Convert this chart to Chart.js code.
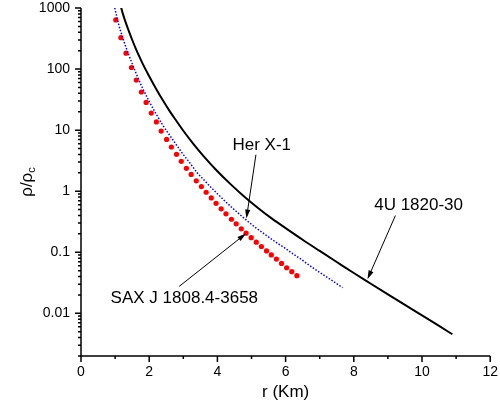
<!DOCTYPE html>
<html>
<head>
<meta charset="utf-8">
<script src="https://cdn.jsdelivr.net/npm/chart.js@4.4.1/dist/chart.umd.min.js"></script>
<style>
  html, body { margin: 0; padding: 0; background: #fff; }
</style>
</head>
<body>
<canvas id="chart" width="500" height="407"></canvas>
<script>
// radius r (Km) and density ratio rho/rho_c
const saxR = [1.02, 1.17, 1.32, 1.48, 1.62, 1.77, 1.91, 2.06, 2.21, 2.35, 2.51, 2.65, 2.80,
    2.94, 3.09, 3.23, 3.38, 3.53, 3.67, 3.82, 3.96, 4.11, 4.25, 4.41, 4.55, 4.70, 4.84,
    4.99, 5.14, 5.29, 5.44, 5.58, 5.73, 5.88, 6.03, 6.18, 6.33];
const saxRho = [637, 327, 182, 106, 65.9, 42.1, 28.4, 19.0, 13.6, 9.66, 7.04, 5.29, 4.01,
    3.08, 2.37, 1.88, 1.48, 1.19, 0.96, 0.776, 0.634, 0.514, 0.426, 0.347, 0.292, 0.242, 0.205,
    0.173, 0.146, 0.124, 0.105, 0.0904, 0.0774, 0.0656, 0.0558, 0.0480, 0.0413];

const herR = [0.99, 1.1, 1.2, 1.3, 1.4, 1.5, 1.6, 1.8, 2.0, 2.2, 2.4, 2.6, 2.8, 3.0, 3.2,
    3.4, 3.6, 3.8, 4.0, 4.2, 4.4, 4.6, 4.8, 5.0, 5.2, 5.4, 5.6, 5.8, 6.0, 6.2, 6.4, 6.67,
    7.0, 7.3, 7.67];
const herRho = [1000, 550, 359, 243, 172, 123, 89, 49.5, 29.5, 18.5, 12.0, 8.26, 5.69, 3.98, 2.87,
    2.02, 1.54, 1.175, 0.908, 0.706, 0.556, 0.442, 0.354, 0.286, 0.234, 0.195, 0.162, 0.136,
    0.115, 0.0955, 0.0807, 0.0625, 0.0468, 0.0363, 0.0263];

const u4R = [1.16, 1.22, 1.3, 1.4, 1.5, 1.6, 1.7, 1.8, 2.0, 2.2, 2.4, 2.6, 2.8, 3.0, 3.3, 3.6,
    4.0, 4.4, 4.8, 5.2, 5.6, 6.0, 6.5, 7.0, 7.5, 8.0, 8.5, 9.0, 9.5, 10.0, 10.5, 10.89];
const u4Rho = [1100, 832, 603, 422, 302, 221, 165, 125, 76.2, 47.6, 30.8, 20.5, 14.1, 9.77, 5.90, 3.72,
    2.12, 1.28, 0.805, 0.527, 0.355, 0.248, 0.160, 0.105, 0.0692, 0.0457, 0.0305, 0.0204,
    0.0137, 0.00923, 0.00621, 0.00454];

const yTicks = [0.01, 0.1, 1, 10, 100, 1000];

// labels with arrows, in data units
const notes = [
    {text: "Her X-1", at: [5.30, 5.56], from: [5.13, 3.96], to: [4.85, 0.356]},
    {text: "4U 1820-30", at: [9.90, 0.582], from: [9.22, 0.399], to: [8.40, 0.036]},
    {text: "SAX J 1808.4-3658", at: [3.03, 0.0176], from: [2.88, 0.0276], to: [4.84, 0.203]},
];

const pts = (xs, ys) => xs.map((x, i) => ({x: x, y: ys[i]}));
const FONT = "'Liberation Sans', Arial, sans-serif";

// axis lines, major/minor ticks, y title and the arrow labels
const decorPlugin = {
    id: "decor",
    afterDraw(chart) {
        const {ctx, chartArea: a, scales: {x, y}} = chart;
        ctx.save();
        ctx.strokeStyle = "#000";
        ctx.fillStyle = "#000";
        ctx.lineWidth = 1.5;
        ctx.beginPath();
        ctx.moveTo(a.left, a.top);
        ctx.lineTo(a.left, a.bottom);
        ctx.lineTo(a.right, a.bottom);
        for (let v = 0; v <= 12; v++) {
            const px = x.getPixelForValue(v);
            ctx.moveTo(px, a.bottom);
            ctx.lineTo(px, a.bottom + (v % 2 ? 3 : 6));
        }
        for (let e = -3; e <= 3; e++) {
            for (let m = 1; m <= 9; m++) {
                const v = m * Math.pow(10, e);
                if (v < y.min || v > y.max * 1.0001) continue;
                const py = y.getPixelForValue(v);
                ctx.moveTo(a.left, py);
                ctx.lineTo(a.left - (m === 1 ? 6 : 3), py);
            }
        }
        ctx.stroke();

        // y title rho/rho_c
        ctx.save();
        ctx.translate(27, (a.top + a.bottom) / 2);
        ctx.rotate(-Math.PI / 2);
        ctx.font = "17px " + FONT;
        const main = "\u03C1/\u03C1";
        const w1 = ctx.measureText(main).width;
        ctx.font = "11px " + FONT;
        const w2 = ctx.measureText("c").width;
        ctx.textBaseline = "middle";
        ctx.textAlign = "left";
        ctx.font = "17px " + FONT;
        ctx.fillText(main, -(w1 + w2) / 2, 0);
        ctx.font = "11px " + FONT;
        ctx.fillText("c", -(w1 + w2) / 2 + w1, 5);
        ctx.restore();

        // annotations
        ctx.lineWidth = 1;
        ctx.font = "17px " + FONT;
        ctx.textAlign = "center";
        ctx.textBaseline = "middle";
        notes.forEach(n => {
            ctx.fillText(n.text, x.getPixelForValue(n.at[0]), y.getPixelForValue(n.at[1]));
            const x0 = x.getPixelForValue(n.from[0]), y0 = y.getPixelForValue(n.from[1]);
            const x1 = x.getPixelForValue(n.to[0]), y1 = y.getPixelForValue(n.to[1]);
            const ang = Math.atan2(y1 - y0, x1 - x0);
            ctx.beginPath();
            ctx.moveTo(x0, y0);
            ctx.lineTo(x1 - 6 * Math.cos(ang), y1 - 6 * Math.sin(ang));
            ctx.stroke();
            ctx.beginPath();
            ctx.moveTo(x1, y1);
            ctx.lineTo(x1 - 9 * Math.cos(ang) + 2.6 * Math.sin(ang), y1 - 9 * Math.sin(ang) - 2.6 * Math.cos(ang));
            ctx.lineTo(x1 - 9 * Math.cos(ang) - 2.6 * Math.sin(ang), y1 - 9 * Math.sin(ang) + 2.6 * Math.cos(ang));
            ctx.closePath();
            ctx.fill();
        });
        ctx.restore();
    }
};

new Chart(document.getElementById("chart").getContext("2d"), {
    type: "scatter",
    data: {
        datasets: [{
            label: "4U 1820-30",
            data: pts(u4R, u4Rho),
            showLine: true,
            borderColor: "#000000",
            borderWidth: 2,
            pointRadius: 0,
            cubicInterpolationMode: "monotone",
        }, {
            label: "Her X-1",
            data: pts(herR, herRho),
            showLine: true,
            borderColor: "#0000ff",
            borderWidth: 1.5,
            borderDash: [1.5, 1.7],
            pointRadius: 0,
            cubicInterpolationMode: "monotone",
        }, {
            label: "SAX J 1808.4-3658",
            data: pts(saxR, saxRho),
            showLine: false,
            pointRadius: 2.6,
            pointBorderWidth: 0,
            pointBackgroundColor: "#ff0000",
            borderColor: "#ff0000",
        },],
    },
    plugins: [decorPlugin],
    options: {
        responsive: false,
        animation: false,
        layout: {
            padding: {left: 0, right: 7, top: 8, bottom: 0},
        },
        plugins: {
            legend: {display: false},
            tooltip: {enabled: false},
        },
        scales: {
            x: {
                type: "linear",
                min: 0,
                max: 12,
                grid: {display: false, drawTicks: true, tickLength: 6},
                border: {display: false},
                ticks: {
                    stepSize: 1,
                    padding: 2,
                    maxRotation: 0,
                    autoSkip: false,
                    color: "#000",
                    font: {family: FONT, size: 14},
                    callback: (v) => (v % 2 === 0 ? String(v) : ""),
                },
                title: {
                    display: true,
                    text: "r (Km)",
                    color: "#000",
                    font: {family: FONT, size: 17},
                    padding: {top: 0, bottom: 4},
                },
                afterFit: (scale) => { scale.height = 51; },
            },
            y: {
                type: "logarithmic",
                min: 0.002,
                max: 1000,
                grid: {display: false, drawTicks: true, tickLength: 11},
                border: {display: false},
                ticks: {
                    padding: 0,
                    color: "#000",
                    font: {family: FONT, size: 14, lineHeight: 1},
                    callback: (v) => (yTicks.includes(v) ? String(v) : ""),
                },
                afterBuildTicks: (scale) => { scale.ticks = yTicks.map(v => ({value: v})); },
                afterFit: (scale) => { scale.width = 81; },
            },
        },
    },
});
</script>
</body>
</html>
